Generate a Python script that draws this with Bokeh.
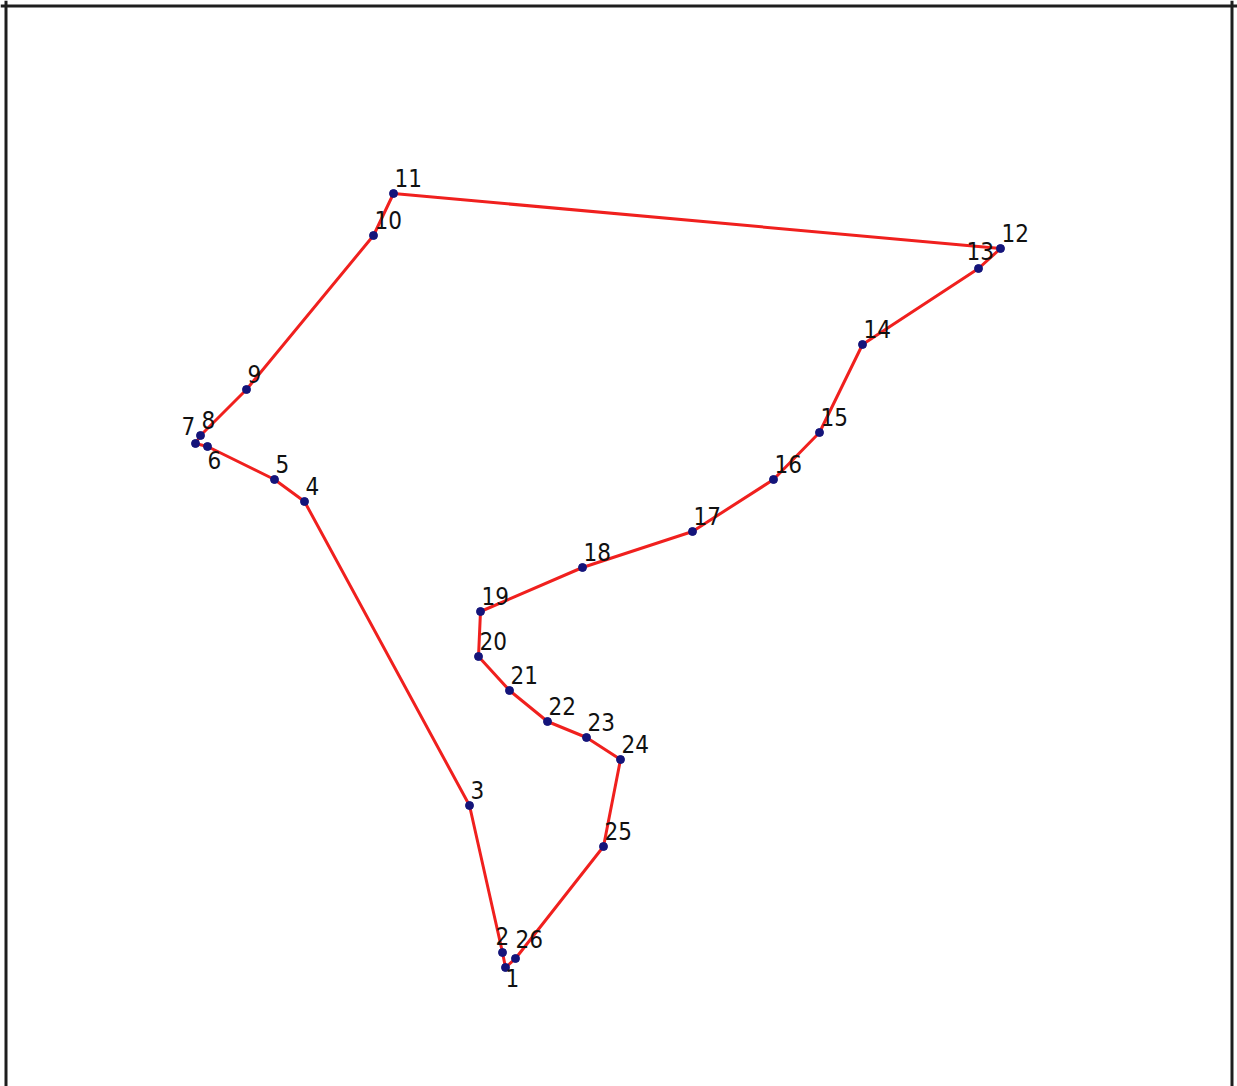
from bokeh.plotting import figure
from bokeh.models import ColumnDataSource, Range1d, Span
from bokeh.embed import file_html
from bokeh.resources import INLINE
from bokeh.core.properties import value

# Route stops (order 1..26), x to the right, y upward (arbitrary map units)
stop_ids = [str(i) for i in range(1, 27)]
x_vals = [505, 502, 469, 304, 274, 207, 195, 200, 246, 373, 393, 1000, 978,
          862, 819, 773, 692, 582, 480, 478, 509, 547, 586, 620, 603, 515]
y_vals = [119, 134, 281, 585, 607, 640, 643, 651, 697, 851, 893, 838, 818,
          742, 654, 607, 555, 519, 475, 430, 396, 365, 349, 327, 240, 128]

# label placement (pixel offsets): default and exceptions
default_offset = (1, -16)
label_offset = {"1": (0, 10), "2": (-7, -17), "6": (0, 13), "7": (-14, -18),
                "13": (-12, -18), "26": (0, -20)}

xo = [label_offset.get(s, default_offset)[0] for s in stop_ids]
yo = [label_offset.get(s, default_offset)[1] for s in stop_ids]

src = ColumnDataSource(dict(x=x_vals, y=y_vals, label=stop_ids, xo=xo, yo=yo))

W, H = 1237, 1086
p = figure(width=W, height=H, output_backend="svg", toolbar_location=None,
           x_axis_location=None, y_axis_location=None,
           x_range=Range1d(0, W), y_range=Range1d(0, H),
           min_border=0)
p.grid.visible = False
p.outline_line_color = None
p.background_fill_color = "white"

# map frame (left, right, top edges; bottom runs off the page)
for loc, dim in [(5.5, "height"), (1231.5, "height"), (H - 5.5, "width")]:
    p.add_layout(Span(location=loc, dimension=dim, line_color="#1e1e1e",
                      line_width=3))

# closed route
loop_x = x_vals + [x_vals[0]]
loop_y = y_vals + [y_vals[0]]
p.line(loop_x, loop_y, line_color="#f0201e", line_width=3)

p.scatter("x", "y", source=src, size=8, fill_color="#14147a",
          line_color="#14147a")

p.text("x", "y", text="label", source=src, x_offset="xo", y_offset="yo",
       text_font=value("DejaVu Sans Condensed"), text_font_size="24px",
       text_color="#111111", text_baseline="alphabetic", text_align="left")

open("out.html", "w").write(file_html(p, INLINE))
